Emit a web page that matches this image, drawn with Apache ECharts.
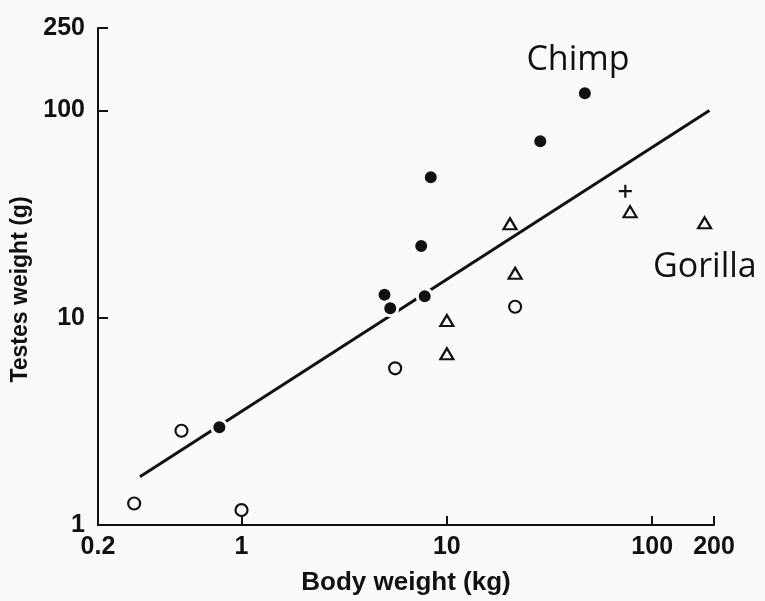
<!DOCTYPE html>
<html>
<head>
<meta charset="utf-8">
<script src="https://cdn.jsdelivr.net/npm/echarts@6/dist/echarts.min.js"></script>
<style>
  html, body { margin: 0; padding: 0; background: #fafafa; }
  #chart { width: 765px; height: 601px; }
</style>
</head>
<body>
<div id="chart"></div>
<script>
// axis ranges (log scale), ticks fall on the decades plus the ends
const xTicks = [0.2, 1, 10, 100, 200];
const yTicks = [1, 10, 100, 250];

// [body weight kg, testes weight g]
const openCircles = [[0.30, 1.27], [0.51, 2.85], [1.0, 1.18], [5.6, 5.7], [21.5, 11.3]];
const filledCircles = [[0.78, 2.96], [4.97, 12.9], [5.3, 11.1], [7.8, 12.7], [7.5, 22.2], [8.35, 47.6], [28.5, 71], [47, 121]];
const triangles = [[20.3, 28.4], [21.5, 16.4], [10, 9.7], [10, 6.7], [78, 32.5], [180, 28.7]];
const crosses = [[74, 40.8]];
const fitLine = [[0.32, 1.71], [190, 100]];

const ink = '#111';
const tickFont = { color: ink, fontFamily: 'Liberation Sans', fontWeight: 'bold', fontSize: 25 };

const chart = echarts.init(document.getElementById('chart'));
chart.setOption({
  backgroundColor: '#fafafa',
  animation: false,
  grid: { left: 98, right: 51, top: 28, bottom: 74 },
  xAxis: {
    type: 'log',
    logBase: 10,
    min: xTicks[0],
    max: xTicks[xTicks.length - 1],
    name: 'Body weight (kg)',
    nameLocation: 'middle',
    nameGap: 45,
    nameTextStyle: { color: ink, fontFamily: 'Liberation Sans', fontWeight: 'bold', fontSize: 26 },
    axisLine: { show: true, lineStyle: { color: ink, width: 2 } },
    axisTick: { show: true, inside: true, length: 9, lineStyle: { color: ink, width: 2 } },
    axisLabel: Object.assign({ margin: 10, showMinLabel: true, showMaxLabel: true }, tickFont),
    splitLine: { show: false },
    minorTick: { show: false }
  },
  yAxis: {
    type: 'log',
    logBase: 10,
    min: yTicks[0],
    max: yTicks[yTicks.length - 1],
    name: 'Testes weight (g)',
    nameLocation: 'middle',
    nameRotate: 90,
    nameGap: 62,
    nameTextStyle: { color: ink, fontFamily: 'Liberation Sans', fontWeight: 'bold', fontSize: 23, padding: [0, 26, 0, 0] },
    axisLine: { show: true, lineStyle: { color: ink, width: 2 } },
    axisTick: { show: true, inside: true, length: 10, lineStyle: { color: ink, width: 2 } },
    axisLabel: Object.assign({ margin: 13, showMinLabel: true, showMaxLabel: true }, tickFont),
    splitLine: { show: false }
  },
  graphic: [
    { type: 'text', x: 578, y: 60, style: { text: 'Chimp', fill: ink, font: '34px "Open Sans"', textAlign: 'center', textVerticalAlign: 'middle' } },
    { type: 'text', x: 653, y: 267, style: { text: 'Gorilla', fill: ink, font: '34px "Open Sans"', textAlign: 'left', textVerticalAlign: 'middle' } }
  ],
  series: [
    {
      type: 'line',
      data: fitLine,
      symbol: 'none',
      z: 1,
      lineStyle: { color: ink, width: 3 }
    },
    {
      type: 'scatter',
      data: openCircles,
      symbol: 'circle',
      symbolSize: 12,
      z: 3,
      itemStyle: { color: '#fafafa', borderColor: ink, borderWidth: 2.2, opacity: 1 }
    },
    {
      type: 'scatter',
      data: filledCircles,
      symbol: 'circle',
      symbolSize: 15,
      z: 3,
      itemStyle: { color: ink, borderColor: '#fafafa', borderWidth: 3, opacity: 1 }
    },
    {
      type: 'scatter',
      data: triangles,
      symbol: 'triangle',
      symbolSize: [13, 11],
      z: 3,
      itemStyle: { color: '#fafafa', borderColor: ink, borderWidth: 2.2, opacity: 1 }
    },
    {
      type: 'scatter',
      data: crosses,
      symbol: 'path://M5,0H7V5H12V7H7V12H5V7H0V5H5Z',
      symbolSize: 13,
      z: 3,
      itemStyle: { color: ink, opacity: 1 }
    }
  ]
});
</script>
</body>
</html>
